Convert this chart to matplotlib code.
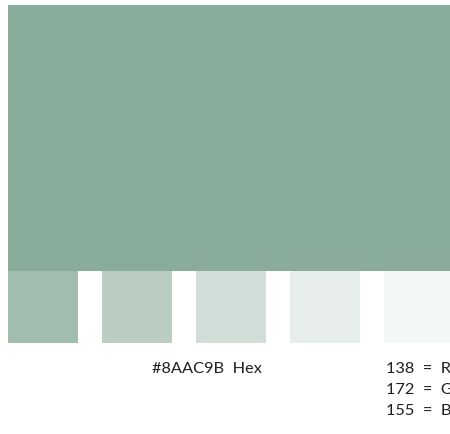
import matplotlib
matplotlib.use("Agg")
import matplotlib.pyplot as plt
from matplotlib.colors import to_rgb

# data
base_hex = "#8AAC9B"
tint_levels = [0.2, 0.4, 0.6, 0.8, 0.9]
rgb_values = [138, 172, 155]
rgb_labels = ["R", "G", "B"]

def tint(hexcol, f):
    r, g, b = to_rgb(hexcol)
    return (r + (1 - r) * f, g + (1 - g) * f, b + (1 - b) * f)

W, H = 450, 434
fig = plt.figure(figsize=(W / 100, H / 100), dpi=100)
ax = fig.add_axes([0, 0, 1, 1])
ax.set_xlim(0, W)
ax.set_ylim(H, 0)
ax.axis("off")

# main swatch
ax.bar(8, 266, width=460, bottom=5, align="edge", color=base_hex, linewidth=0)

# tints
sw_x = [8 + i * 94 for i in range(len(tint_levels))]
ax.bar(sw_x, [72] * len(tint_levels), width=70, bottom=271, align="edge",
       color=[tint(base_hex, f) for f in tint_levels], linewidth=0)

font = ["Lato", "DejaVu Sans"]
ax.text(152, 369, f"{base_hex}  Hex", fontsize=11.8, family=font,
        va="center", ha="left", color="#231F20")
for i, (v, lab) in enumerate(zip(rgb_values, rgb_labels)):
    ax.text(386, 369 + i * 21, f"{v}  =  {lab}", fontsize=11.8, family=font,
            va="center", ha="left", color="#231F20")

fig.savefig("out.png", dpi=100)
